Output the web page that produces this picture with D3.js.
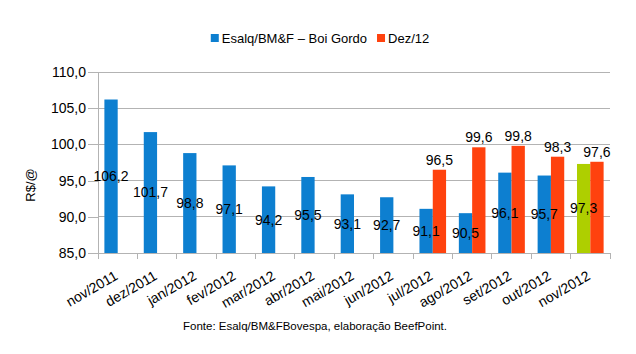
<!DOCTYPE html>
<html><head><meta charset="utf-8">
<script src="https://cdn.jsdelivr.net/npm/d3@7"></script>
<style>html,body{margin:0;padding:0;background:#fff}svg{display:block;font-family:"Liberation Sans",Arial,sans-serif}</style>
</head><body>
<svg id="c" width="636" height="354"></svg>
<script>
const categories = ["nov/2011","dez/2011","jan/2012","fev/2012","mar/2012","abr/2012","mai/2012","jun/2012","jul/2012","ago/2012","set/2012","out/2012","nov/2012"];
const esalqValues = [106.2,101.7,98.8,97.1,94.2,95.5,93.1,92.7,91.1,90.5,96.1,95.7,97.3];
const dezValues = [null,null,null,null,null,null,null,null,96.5,99.6,99.8,98.3,97.6];
const seriesNames = ["Esalq/BM&F \u2013 Boi Gordo","Dez/12"];
const yTicks = [85,90,95,100,105,110];
const highlightCategory = "nov/2012";
const yTitle = "R$/@";
const footer = "Fonte: Esalq/BM&FBovespa, elabora\u00e7\u00e3o BeefPoint.";

const colors = {blue:"#0d7fd0", red:"#ff420e", green:"#aecf00", grid:"#b3b3b3"};
const svg = d3.select("#c");
const L=98, R=610, T=72, B=253;
const x0 = d3.scaleBand().domain(categories).range([L,R]);
const x1 = d3.scaleBand().domain([0,1]).range([0,x0.bandwidth()]).paddingOuter(0.48);
const y = d3.scaleLinear().domain([85,110]).range([B,T]);
const fmt = v => v.toFixed(1).replace(".",",");

// grid
svg.append("g").selectAll("line").data(yTicks).join("line")
  .attr("x1",L).attr("x2",R).attr("y1",d=>y(d)).attr("y2",d=>y(d))
  .attr("stroke",colors.grid).attr("stroke-width",1).attr("shape-rendering","crispEdges");

// y axis
const ya = svg.append("g").attr("transform",`translate(${L},0)`)
  .call(d3.axisLeft(y).tickValues(yTicks).tickSize(10).tickPadding(2).tickFormat(fmt));
ya.select(".domain").attr("stroke",colors.grid);
ya.selectAll(".tick line").attr("stroke",colors.grid);
ya.selectAll("text").attr("font-size",14).attr("fill","#000").attr("font-family",null);
ya.attr("shape-rendering","crispEdges");

// x axis with ticks at boundaries
const xa = svg.append("g");
xa.append("line").attr("x1",L).attr("x2",R).attr("y1",B).attr("y2",B).attr("stroke",colors.grid).attr("shape-rendering","crispEdges");
const bounds = categories.map(c=>x0(c)).concat([R]);
xa.selectAll("line.t").data(bounds).join("line").attr("class","t")
  .attr("x1",d=>d).attr("x2",d=>d).attr("y1",B).attr("y2",B+6)
  .attr("stroke",colors.grid).attr("shape-rendering","crispEdges");
xa.selectAll("text").data(categories).join("text")
  .attr("transform",d=>`translate(${x0(d)+x0.bandwidth()/2-4},${B+17}) rotate(-30)`)
  .attr("text-anchor","end").attr("dy","0.71em").attr("font-size",14).text(d=>d);

// bars
const g = svg.append("g");
categories.forEach((c,i)=>{
  const bx = x0(c)+x1(0), bw = x1.bandwidth();
  const v = esalqValues[i];
  g.append("rect").attr("x",bx).attr("y",y(v)).attr("width",bw).attr("height",B-y(v))
    .attr("fill", c===highlightCategory?colors.green:colors.blue);
  const r = dezValues[i];
  if(r!=null){
    const rx = x0(c)+x1(1);
    g.append("rect").attr("x",rx).attr("y",y(r)).attr("width",bw).attr("height",B-y(r)).attr("fill",colors.red);
  }
});
// labels
categories.forEach((c,i)=>{
  const bw = x1.bandwidth();
  const v = esalqValues[i];
  g.append("text").attr("x",x0(c)+x1(0)+bw/2).attr("y",(y(v)+B)/2).attr("dy","0.35em")
    .attr("text-anchor","middle").attr("font-size",14).text(fmt(v));
  const r = dezValues[i];
  if(r!=null){
    g.append("text").attr("x",x0(c)+x1(1)+bw/2).attr("y",y(r)-5)
      .attr("text-anchor","middle").attr("font-size",14).text(fmt(r));
  }
});

// y title
svg.append("text").attr("transform",`translate(35,185) rotate(-90)`).attr("text-anchor","middle")
  .attr("font-size",13).text(yTitle);

// legend
const lg = svg.append("g");
let lx = 0;
const legColors=[colors.blue,colors.red];
seriesNames.forEach((s,i)=>{
  lg.append("rect").attr("x",lx).attr("y",-4).attr("width",8).attr("height",8).attr("fill",legColors[i]);
  const t = lg.append("text").attr("x",lx+11).attr("y",0).attr("dy","0.35em").attr("font-size",13).text(s);
  lx += 11 + t.node().getComputedTextLength() + 10;
});
lx -= 10;
lg.attr("transform",`translate(${320-lx/2},38)`);

// footer
svg.append("text").attr("x",315).attr("y",330).attr("text-anchor","middle").attr("font-size",11.5).text(footer);
</script>
</body></html>
